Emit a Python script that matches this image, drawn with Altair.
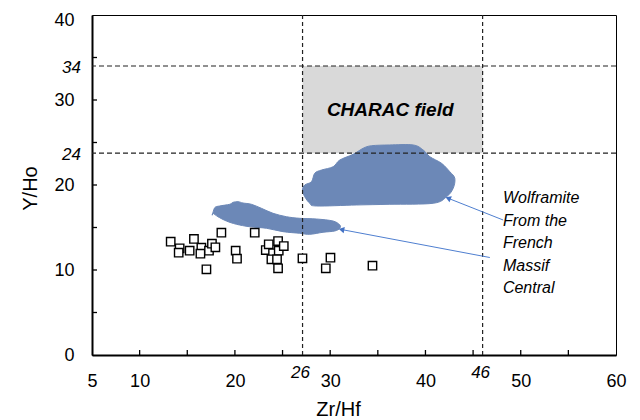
import math
import altair as alt
import pandas as pd

# ---------------- data ----------------
sq_x = [13.26, 14.20, 14.10, 15.25, 15.70, 16.48, 16.38, 17.01, 17.28, 17.59, 17.95, 18.58,
        20.08, 20.22, 22.08, 23.24, 23.55, 24.00, 23.83, 24.53, 24.60, 24.42, 24.53, 25.13,
        27.09, 30.03, 29.54, 34.44]
sq_y = [13.33, 12.55, 12.04, 12.27, 13.65, 12.62, 11.92, 10.08, 12.27, 13.09, 12.67, 14.39,
        12.27, 11.33, 14.39, 12.35, 13.02, 11.96, 11.26, 13.41, 12.27, 11.26, 10.20, 12.82,
        11.38, 11.45, 10.20, 10.51]

big_x = [27.09, 27.33, 28.04, 28.38, 29.09, 30.31, 31.01, 32.41, 33.46, 34.34, 36.26, 38.71,
         39.76, 40.46, 41.69, 42.56, 43.08, 42.91, 42.22, 40.81, 36.26, 32.76, 28.56, 27.86, 27.33]
big_y = [19.41, 20.00, 20.39, 21.38, 21.76, 22.15, 22.94, 23.61, 24.32, 24.62, 24.71, 24.71,
         24.12, 23.33, 22.55, 21.56, 20.79, 19.61, 18.62, 17.85, 17.73, 17.65, 17.53, 17.85, 18.62]

small_x = [17.64, 17.88, 18.40, 19.45, 19.80, 20.33, 20.85, 21.73, 22.78, 24.00, 25.41, 26.81,
           28.56, 30.31, 31.01, 31.01, 30.48, 29.25, 27.86, 26.81, 25.05, 23.31, 21.55, 20.16,
           19.11, 18.22, 17.70]
small_y = [16.47, 17.33, 17.53, 17.73, 17.96, 18.04, 17.88, 17.73, 17.26, 16.67, 16.27, 16.08,
           16.00, 15.76, 15.29, 14.91, 14.59, 14.44, 14.20, 14.32, 14.51, 14.91, 15.09, 15.38,
           15.76, 16.27, 16.67]

ref_x = [27.1, 46.0]
ref_x_labels = ["26", "46"]
ref_y = [23.75, 34.0]
ref_y_labels = ["24", "34"]

field_x = [27.1, 46.0]
field_y = [23.75, 34.0]
field_label = "CHARAC field"
field_label_pos = [36.3, 28.8]

note_lines = ["Wolframite", "From the", "French", "Massif", "Central"]
note_x = 48.13
note_y = [18.47, 15.80, 13.20, 10.47, 7.88]

arr_x0 = [48.16, 46.76]
arr_y0 = [15.88, 11.47]
arr_x1 = [42.38, 31.19]
arr_y1 = [18.44, 14.76]

x_labels = [5, 10, 20, 30, 40, 50, 60]
x_ticks = [10, 15, 20, 25, 30, 35, 40, 45, 50, 55]
y_labels = [0, 10, 20, 30, 40]
y_ticks = [5, 10, 15, 20, 25, 30, 35]

# ---------------- layout ----------------
W, H = 524, 340
XMIN, XMAX, YMIN, YMAX = 5, 60, 0, 40
FONT = "Liberation Sans"
BLOB = "#6C88B7"
ARROW = "#4F7FD0"

xs = alt.Scale(domain=[XMIN, XMAX], nice=False, zero=False)
ys = alt.Scale(domain=[YMIN, YMAX], nice=False, zero=False)

x_axis = alt.Axis(values=x_labels, title="Zr/Hf", labelFlush=False, titleX=246, titleY=54)
y_axis = alt.Axis(values=y_labels, title="Y/Ho", titleX=-62, titleY=173,
                  labelOffset={"condition": {"test": "datum.value === 40", "value": 5}, "value": 0})


def X(f, axis=alt.Undefined):
    return alt.X(f, type="quantitative", scale=xs, axis=axis)


def Y(f, axis=alt.Undefined):
    return alt.Y(f, type="quantitative", scale=ys, axis=axis)


rect_df = pd.DataFrame({"x1": [field_x[0]], "x2": [field_x[1]], "y1": [field_y[0]], "y2": [field_y[1]]})
rect = alt.Chart(rect_df).mark_rect(color="#D9D9D9").encode(
    x=X("x1", x_axis), x2="x2", y=Y("y1", y_axis), y2="y2")

blob_df = pd.concat([
    pd.DataFrame({"x": big_x, "y": big_y, "i": range(len(big_x)), "b": "big"}),
    pd.DataFrame({"x": small_x, "y": small_y, "i": range(len(small_x)), "b": "small"}),
])
blobs = alt.Chart(blob_df).mark_line(fill=BLOB, stroke=BLOB, strokeWidth=1,
                                     interpolate="cardinal-closed").encode(
    x=X("x"), y=Y("y"), order=alt.Order("i:Q"), detail="b:N")

vrule = alt.Chart(pd.DataFrame({"x": ref_x})).mark_rule(
    color="#222222", strokeWidth=1.2, strokeDash=[4, 3]).encode(x=X("x"))
hrule = alt.Chart(pd.DataFrame({"y": ref_y})).mark_rule(
    color="#222222", strokeWidth=1.2, strokeDash=[5, 3]).encode(y=Y("y"))

pts = alt.Chart(pd.DataFrame({"x": sq_x, "y": sq_y})).mark_point(
    shape="square", filled=True, fill="white", stroke="black", strokeWidth=1.4,
    size=70, opacity=1).encode(x=X("x"), y=Y("y"))

SX = W / (XMAX - XMIN)
SY = H / (YMAX - YMIN)


def head_angle(x0, y0, x1, y1):
    dx = (x1 - x0) * SX
    dy = -(y1 - y0) * SY
    return math.degrees(math.atan2(dx, -dy)) % 360


arr_df = pd.DataFrame({"x0": arr_x0, "y0": arr_y0, "x1": arr_x1, "y1": arr_y1})
arr_df["ang"] = [head_angle(a, b, c, d) for a, b, c, d in zip(arr_x0, arr_y0, arr_x1, arr_y1)]
arrows = alt.Chart(arr_df).mark_rule(color=ARROW, strokeWidth=1).encode(
    x=X("x0"), y=Y("y0"), x2="x1", y2="y1")
heads = alt.Chart(arr_df).mark_point(shape="triangle-up", filled=True, color="#4472C4",
                                     size=40, opacity=1).encode(
    x=X("x1"), y=Y("y1"), angle=alt.Angle("ang:Q", scale=None))

field_txt = alt.Chart(pd.DataFrame({"x": [field_label_pos[0]], "y": [field_label_pos[1]],
                                    "t": [field_label]})).mark_text(
    fontSize=19, fontWeight="bold", fontStyle="italic", color="black", font=FONT).encode(
    x=X("x"), y=Y("y"), text="t:N")

note_txt = alt.Chart(pd.DataFrame({"x": [note_x] * len(note_lines), "y": note_y,
                                   "t": note_lines})).mark_text(
    align="left", baseline="middle", fontSize=16, fontStyle="italic", color="black",
    font=FONT).encode(x=X("x"), y=Y("y"), text="t:N")

xlab = alt.Chart(pd.DataFrame({"x": ref_x, "t": ref_x_labels})).mark_text(
    baseline="middle", fontSize=17, fontStyle="italic", color="black", font=FONT,
    dx=-2, dy=18).encode(x=X("x"), y=alt.value(H), text="t:N")
ylab = alt.Chart(pd.DataFrame({"y": ref_y, "t": ref_y_labels})).mark_text(
    align="right", baseline="middle", fontSize=17, fontStyle="italic", color="black",
    font=FONT, dx=-11, dy=2).encode(x=alt.value(0), y=Y("y"), text="t:N")

xt = alt.Chart(pd.DataFrame({"x": x_ticks})).mark_rule(color="black", strokeWidth=1.3).encode(
    x=X("x"), y=alt.value(H), y2=alt.value(H - 5))
yt = alt.Chart(pd.DataFrame({"y": y_ticks})).mark_rule(color="black", strokeWidth=1.3).encode(
    y=Y("y"), x=alt.value(0), x2=alt.value(5))

chart = alt.layer(rect, blobs, vrule, hrule, pts, arrows, heads, field_txt, note_txt,
                  xlab, ylab, xt, yt).properties(
    width=W, height=H,
    autosize=alt.AutoSizeParams(type="none"),
    padding={"left": 92, "top": 15, "right": 24, "bottom": 65},
).configure(font=FONT, background="white").configure_view(
    stroke="black", strokeWidth=1
).configure_axis(
    tickSize=0, domainColor="black", domainWidth=2, labelFontSize=18, labelColor="black",
    labelOverlap=False, grid=False, titleFontSize=20, titleFontWeight="normal",
    titleColor="black", titleBaseline="middle", labelFont=FONT, titleFont=FONT
).configure_axisX(labelPadding=17).configure_axisY(labelPadding=18)

chart.save("out.html", embed_options={"renderer": "svg", "actions": False})
